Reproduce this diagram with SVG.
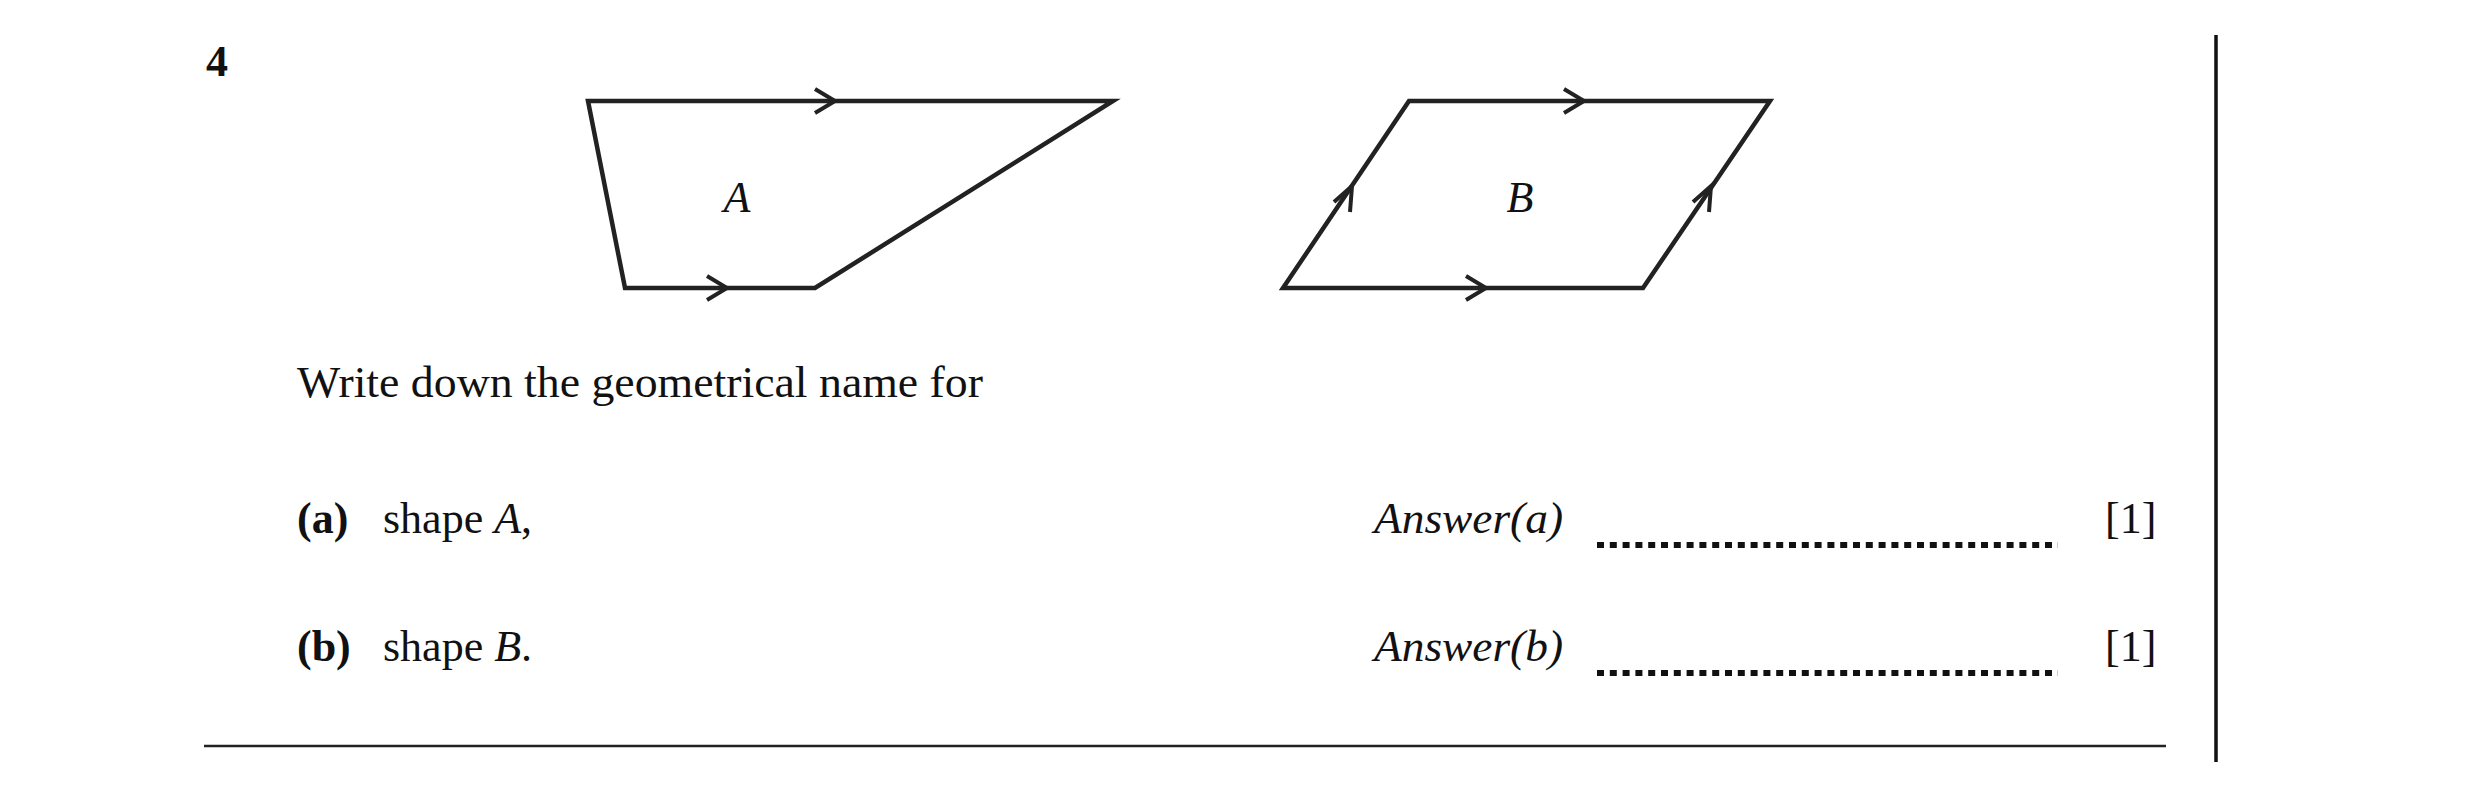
<svg xmlns="http://www.w3.org/2000/svg" width="2480" height="798" viewBox="0 0 2480 798">
<style>
.t{font-family:"Liberation Serif",serif;font-size:44px;fill:#111}
.i{font-style:italic}.b{font-weight:bold}
.s{fill:none;stroke:#222;stroke-width:4.5;stroke-linejoin:miter}
.ar{fill:none;stroke:#222;stroke-width:4}
.dot{stroke:#111;stroke-width:6;stroke-dasharray:7 5.8}
</style>
<rect width="2480" height="798" fill="#fff"/>
<text class="t b" x="206" y="76">4</text>
<g id="shapeA">
<polygon class="s" points="588,101 1113,101 815,288 625,288"/>
<path class="ar" d="M815,89 L835,101 L815,113 M707,276 L727,288 L707,300"/>
<text class="t i" x="737" y="212" text-anchor="middle">A</text>
</g>
<g id="shapeB">
<polygon class="s" points="1409,101 1770,101 1643,288 1283,288"/>
<path class="ar" d="M1564,89 L1584,101 L1564,113 M1466,276 L1486,288 L1466,300"/>
<path class="ar" d="M1334,202 L1352,186 L1350,212 M1693,202 L1711,186 L1709,212"/>
<text class="t i" x="1520" y="212" text-anchor="middle">B</text>
</g>
<text class="t" x="297" y="397" textLength="686" lengthAdjust="spacingAndGlyphs">Write down the geometrical name for</text>
<text class="t b" x="297" y="533">(a)</text>
<text class="t" x="383" y="533">shape <tspan class="i">A</tspan>,</text>
<text class="t b" x="297" y="661">(b)</text>
<text class="t" x="383" y="661">shape <tspan class="i">B</tspan>.</text>
<text class="t i" x="1374" y="533" textLength="189" lengthAdjust="spacingAndGlyphs">Answer(a)</text>
<text class="t i" x="1374" y="661" textLength="189" lengthAdjust="spacingAndGlyphs">Answer(b)</text>
<g id="connectors">
<line class="dot" x1="1597" y1="545" x2="2058" y2="545"/>
<line class="dot" x1="1597" y1="673" x2="2058" y2="673"/>
<line x1="204" y1="746" x2="2166" y2="746" stroke="#222" stroke-width="2.5"/>
<line x1="2216" y1="35" x2="2216" y2="762" stroke="#111" stroke-width="3.5"/>
</g>
<text class="t" x="2105" y="533">[1]</text>
<text class="t" x="2105" y="661">[1]</text>
</svg>
